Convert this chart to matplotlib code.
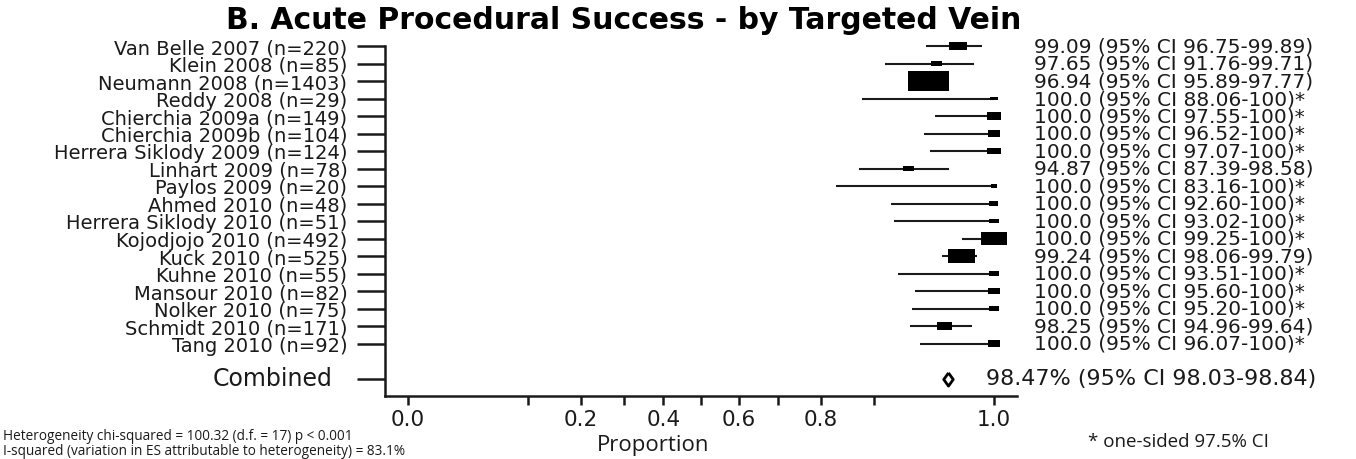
import numpy as np
import matplotlib
matplotlib.use("Agg")
import matplotlib.pyplot as plt
from matplotlib.transforms import blended_transform_factory

# ---- study data -------------------------------------------------------
studies = ["Van Belle 2007", "Klein 2008", "Neumann 2008", "Reddy 2008",
           "Chierchia 2009a", "Chierchia 2009b", "Herrera Siklody 2009",
           "Linhart 2009", "Paylos 2009", "Ahmed 2010", "Herrera Siklody 2010",
           "Kojodjojo 2010", "Kuck 2010", "Kuhne 2010", "Mansour 2010",
           "Nolker 2010", "Schmidt 2010", "Tang 2010"]
n_patients = [220, 85, 1403, 29, 149, 104, 124, 78, 20, 48, 51, 492, 525,
              55, 82, 75, 171, 92]
success_pct = [99.09, 97.65, 96.94, 100.0, 100.0, 100.0, 100.0, 94.87, 100.0,
               100.0, 100.0, 100.0, 99.24, 100.0, 100.0, 100.0, 98.25, 100.0]
ci_lower = [96.75, 91.76, 95.89, 88.06, 97.55, 96.52, 97.07, 87.39, 83.16,
            92.60, 93.02, 99.25, 98.06, 93.51, 95.60, 95.20, 94.96, 96.07]
ci_upper = [99.89, 99.71, 97.77, 100.0, 100.0, 100.0, 100.0, 98.58, 100.0,
            100.0, 100.0, 100.0, 99.79, 100.0, 100.0, 100.0, 99.64, 100.0]

pooled_pct, pooled_lower, pooled_upper = 98.47, 98.03, 98.84

x_ticks = [0.0, 0.1, 0.2, 0.3, 0.4, 0.5, 0.6, 0.7, 0.8, 0.9, 1.0]
x_ticklabels = ["0.0", "", "0.2", "", "0.4", "", "0.6", "", "0.8", "", "1.0"]

title = "B. Acute Procedural Success - by Targeted Vein"
het_lines = ["Heterogeneity chi-squared = 100.32 (d.f. = 17) p < 0.001",
             "I-squared (variation in ES attributable to heterogeneity) = 83.1%"]
footnote = "* one-sided 97.5% CI"


# ---- arcsine square-root axis (linear continuation outside [0, 1]) ----
def fwd(p):
    p = np.asarray(p, dtype=float)
    core = np.arcsin(np.sqrt(np.clip(p, 0.0, 1.0)))
    return np.where(p < 0, p, np.where(p > 1, np.pi / 2 + (p - 1), core))


def inv(t):
    t = np.asarray(t, dtype=float)
    core = np.sin(np.clip(t, 0.0, np.pi / 2)) ** 2
    return np.where(t < 0, t, np.where(t > np.pi / 2, 1 + (t - np.pi / 2), core))


W, H = 1356, 460
fig = plt.figure(figsize=(W / 100, H / 100), dpi=100)
fig.patch.set_facecolor("white")

left_px, right_px, top_px, bot_px = 385, 1017, 47, 397
ax = fig.add_axes([left_px / W, 1 - bot_px / H,
                   (right_px - left_px) / W, (bot_px - top_px) / H])
ax.set_xscale("function", functions=(fwd, inv))
ax.set_xlim(-0.0617, 1.0617)

n_rows = len(studies)
rows = np.arange(n_rows)
pooled_row = n_rows + 1
ax.set_ylim(n_rows + 2, 0)

ink = "#1a1a1a"
p = np.array(success_pct) / 100
lo = np.array(ci_lower) / 100
hi = np.array(ci_upper) / 100
n = np.array(n_patients, dtype=float)

# confidence intervals
ax.hlines(rows, lo, hi, color=ink, lw=1.5, zorder=2, clip_on=False)

# study boxes, area growing with sample size
box = [(-1, -0.5), (1, -0.5), (1, 0.5), (-1, 0.5), (-1, -0.5)]
ax.scatter(p, rows, s=1.28 * n ** 0.9, marker=box, color="black",
           edgecolors="none", zorder=3, clip_on=False)

# pooled estimate
diamond = [(0, 1), (0.72, 0), (0, -1), (-0.72, 0), (0, 1)]
ax.scatter([pooled_pct / 100], [pooled_row], s=9.5 ** 2, marker=diamond,
           facecolors="white", edgecolors="black", linewidths=2.0, zorder=4)

# axes styling
for side in ("top", "right"):
    ax.spines[side].set_visible(False)
for side in ("left", "bottom"):
    ax.spines[side].set_linewidth(1.8)
    ax.spines[side].set_color(ink)

ax.set_xticks(x_ticks)
ax.set_xticklabels(x_ticklabels, fontsize=15.5, family="DejaVu Sans", color=ink)
ax.xaxis.set_minor_locator(matplotlib.ticker.NullLocator())
ax.tick_params(axis="x", length=6.5, width=1.8, pad=3, color=ink)

ax.set_yticks(list(rows) + [pooled_row])
ax.set_yticklabels([f"{s} (n={k})" for s, k in zip(studies, n_patients)] + [""],
                   fontsize=14, family="DejaVu Sans", color=ink)
ax.tick_params(axis="y", length=20, width=1.8, pad=7, color=ink)

row_text = blended_transform_factory(fig.transFigure, ax.transData)
ax.text(332 / W, pooled_row, "Combined", transform=row_text, ha="right",
        va="center", fontsize=17, family="DejaVu Sans", color=ink)

# right-hand estimate column
for r, est, l, u in zip(rows, success_pct, ci_lower, ci_upper):
    if est >= 100:
        label = f"{est:.1f} (95% CI {l:.2f}-{u:.0f})*"
    else:
        label = f"{est:.2f} (95% CI {l:.2f}-{u:.2f})"
    ax.text(1034 / W, r, label, transform=row_text, ha="left", va="center",
            fontsize=14.5, family="DejaVu Sans", color=ink, clip_on=False)
ax.text(986 / W, pooled_row,
        f"{pooled_pct:.2f}% (95% CI {pooled_lower:.2f}-{pooled_upper:.2f})",
        transform=row_text, ha="left", va="center", fontsize=16,
        family="DejaVu Sans", color=ink)

# titles and notes
fig.text(624 / W, 1 - 29 / H, title, ha="center", va="baseline",
         fontsize=21.5, fontweight="bold", family="DejaVu Sans", color="black")
fig.text(653 / W, 1 - 446 / H, "Proportion", ha="center", va="center",
         fontsize=16, family="Open Sans", color=ink)
fig.text(3 / W, 1 - 437 / H, het_lines[0], ha="left", va="center",
         fontsize=9.8, family="Open Sans", color=ink)
fig.text(3 / W, 1 - 452 / H, het_lines[1], ha="left", va="center",
         fontsize=9.8, family="Open Sans", color=ink)
fig.text(1088 / W, 1 - 442 / H, footnote, ha="left", va="center",
         fontsize=13.5, family="Open Sans", color=ink)

fig.savefig("out.png", dpi=100, facecolor="white")
